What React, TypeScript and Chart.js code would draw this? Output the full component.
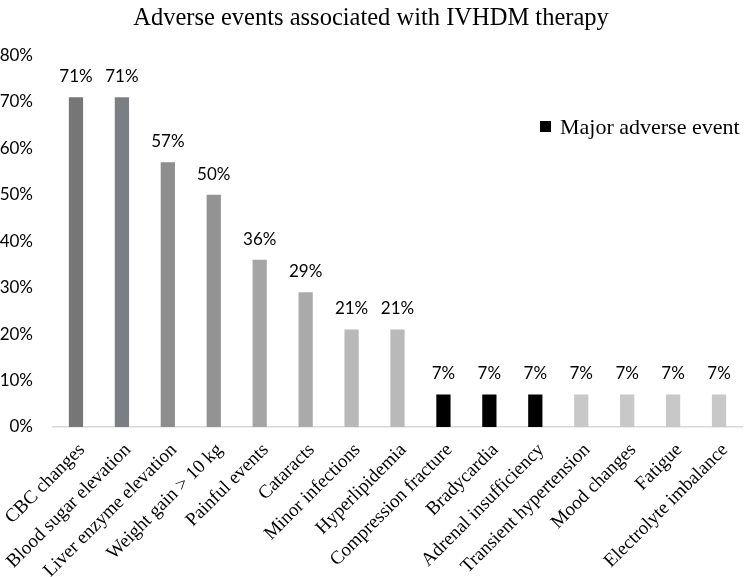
import React, { useEffect, useRef } from "react";
import { Chart, registerables } from "chart.js";
Chart.register(...registerables);

const categories = [
  "CBC changes",
  "Blood sugar elevation",
  "Liver enzyme elevation",
  "Weight gain > 10 kg",
  "Painful events",
  "Cataracts",
  "Minor infections",
  "Hyperlipidemia",
  "Compression fracture",
  "Bradycardia",
  "Adrenal insufficiency",
  "Transient hypertension",
  "Mood changes",
  "Fatigue",
  "Electrolyte imbalance",
];
const values = [71, 71, 57, 50, 36, 29, 21, 21, 7, 7, 7, 7, 7, 7, 7];
const barColors = [
  "#767676", "#7b7f84", "#8e8e8e", "#939393", "#a5a5a5", "#aaaaaa", "#b8b8b8", "#b9b9b9",
  "#000000", "#000000", "#000000",
  "#c8c8c8", "#c8c8c8", "#c8c8c8", "#c8c8c8",
];
const legendLabel = "Major adverse event";
const titleText = "Adverse events associated with IVHDM therapy";

const labelPlugin = {
  id: "valueLabels",
  afterDatasetsDraw(chart: any) {
    const ctx = chart.ctx;
    const meta = chart.getDatasetMeta(0);
    ctx.save();
    ctx.font = "17px Lato";
    ctx.fillStyle = "#000";
    ctx.textAlign = "center";
    ctx.textBaseline = "alphabetic";
    meta.data.forEach((el: any, i: number) => {
      ctx.fillText(values[i] + "%", el.x, el.y - 15);
    });
    ctx.restore();
  },
};

const legendPlugin = {
  id: "customLegend",
  afterDraw(chart: any) {
    const ctx = chart.ctx;
    ctx.save();
    ctx.fillStyle = "#000";
    ctx.fillRect(540, 121, 11, 11);
    ctx.font = "22px 'Liberation Serif'";
    ctx.textBaseline = "alphabetic";
    ctx.textAlign = "left";
    ctx.fillText(legendLabel, 560, 134);
    ctx.restore();
  },
};

export default function App() {
  const ref = useRef<HTMLCanvasElement>(null);
  useEffect(() => {
    const chart = new Chart(ref.current!, {
      type: "bar",
      data: {
        labels: categories,
        datasets: [
          {
            data: values,
            backgroundColor: barColors,
            barPercentage: 0.31,
            categoryPercentage: 1,
          },
        ],
      },
      options: {
        animation: false,
        responsive: false,
        maintainAspectRatio: false,
        layout: { padding: { left: 0, right: 8, top: 4, bottom: 0 } },
        plugins: {
          legend: { display: false },
          tooltip: { enabled: false },
          title: {
            display: true,
            text: titleText,
            color: "#000",
            font: { family: "'Liberation Serif'", size: 24.5, weight: "normal" },
            padding: { top: 0, bottom: 22 },
          },
        },
        scales: {
          x: {
            grid: { display: false },
            border: { display: true, color: "#d9d9d9", width: 1.5 },
            ticks: {
              color: "#000",
              font: { family: "'Liberation Serif'", size: 19 },
              maxRotation: 45,
              minRotation: 45,
              autoSkip: false,
              padding: 4,
              labelOffset: 6,
            },
            afterFit: (s: any) => {
              s.height = 150;
              s.paddingLeft = 0;
              s.paddingRight = 0;
            },
          },
          y: {
            min: 0,
            max: 80,
            grid: { display: false, drawTicks: false, tickLength: 0 },
            border: { display: false },
            ticks: {
              stepSize: 10,
              color: "#000",
              font: { family: "Lato", size: 17 },
              padding: 20,
              callback: (v: any) => v + "%",
            },
            afterFit: (s: any) => {
              s.width = 53;
              s.paddingTop = 0;
              s.paddingBottom = 0;
            },
          },
        },
      },
      plugins: [labelPlugin, legendPlugin],
    });
    return () => chart.destroy();
  }, []);
  return (
    <div style={{ position: "absolute", left: 0, top: 0, width: 750, height: 577, background: "#fff" }}>
      <canvas ref={ref} width={750} height={577} />
    </div>
  );
}
